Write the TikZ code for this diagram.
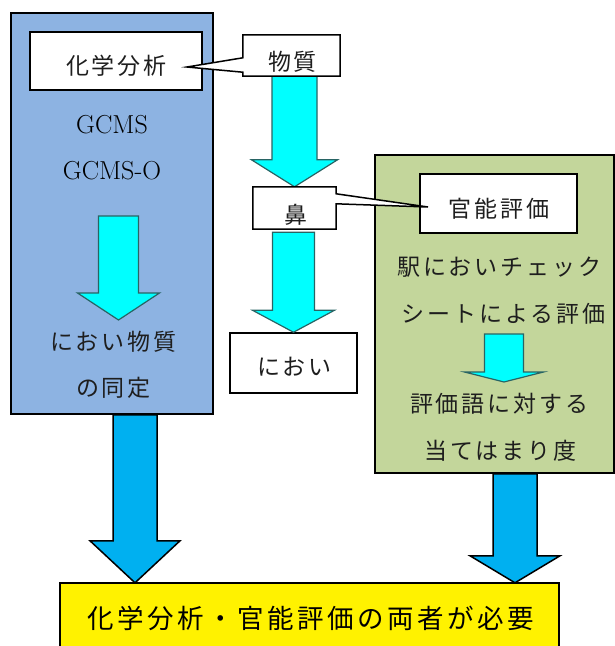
\documentclass[tikz,border=0pt]{standalone}
\usepackage{fontspec}
\newfontfamily\jp[LetterSpace=13]{Noto Sans CJK JP}
\usetikzlibrary{calc}
\definecolor{boxblue}{RGB}{141,179,226}
\definecolor{boxgreen}{RGB}{195,214,155}
\definecolor{arrowblue}{RGB}{0,176,240}
\definecolor{arrowcyan}{RGB}{0,255,255}
\definecolor{cyanedge}{RGB}{40,100,100}
\definecolor{txt}{RGB}{30,30,30}
% style, start, end, shaft half width, head half width, head length
\newcommand\blockarrow[6]{%
  \path[#1] let \p1=#2, \p2=#3 in
    (\x1-#4pt,\y1) -- (\x1+#4pt,\y1) -- (\x1+#4pt,\y2+#6pt) -- (\x1+#5pt,\y2+#6pt)
    -- (\x1,\y2) -- (\x1-#5pt,\y2+#6pt) -- (\x1-#4pt,\y2+#6pt) -- cycle;}
\begin{document}
\begin{tikzpicture}[x=1pt,y=-1pt,
  panel/.style={draw=black, line width=1.5pt, inner sep=0pt},
  box/.style={draw=black, line width=1.5pt, fill=white, inner sep=0pt},
  shapeonly/.style={inner sep=0pt},
  jt/.style={font=\jp\fontsize{23}{27}\selectfont, text=txt, inner sep=0pt, xshift=1.5pt},
  jbig/.style={font=\jp\fontsize{26.5}{30}\selectfont, text=black, inner sep=0pt, xshift=1.7pt},
  lt/.style={font=\rmfamily\fontsize{26}{30}\selectfont, text=black, inner sep=0pt},
  cyanarrow/.style={fill=arrowcyan, draw=cyanedge, line width=1.2pt, line join=miter},
  bluearrow/.style={fill=arrowblue, draw=black, line width=1.5pt, line join=miter}]
\useasboundingbox (0,0) rectangle (614,646);

% panels
\node[panel, fill=boxblue, minimum width=202pt, minimum height=401pt] (chem) at (112,213.5) {};
\node[panel, fill=boxgreen, minimum width=239pt, minimum height=318pt] (sensory) at (494.5,314) {};
\node[shapeonly, minimum width=499pt, minimum height=67pt] (goal) at (309.5,616.5) {};

% bottom arrows
\coordinate (bl) at ($(chem.south)+(23,0)$);
\coordinate (br) at ($(sensory.south)+(20.5,0)$);
\blockarrow{bluearrow}{(bl)}{(bl |- goal.north)}{22}{45}{42}
\blockarrow{bluearrow}{(br)}{(br |- goal.north)}{22}{45}{27}
\draw[line width=1.5pt, fill=yellow] (goal.south west) -- (goal.north west) -- (goal.north east) -- (goal.south east);

% inner boxes
\node[box, minimum width=172pt, minimum height=58pt] (kagaku) at (116,61) {};
\node[box, minimum width=157pt, minimum height=59pt] (kannou) at (498.5,203.5) {};
\node[box, minimum width=127pt, minimum height=60pt] (nioi) at (293.5,363) {};
\node[shapeonly, minimum width=97pt, minimum height=41pt] (busshitsu) at (291.5,55.5) {};
\node[shapeonly, minimum width=83pt, minimum height=42pt] (hana) at (294.5,208) {};

% cyan arrows
\coordinate (a0s) at (118.5,216);
\coordinate (a0e) at (118.5,320);
\blockarrow{cyanarrow}{(a0s)}{(a0e)}{20}{41}{27}
\blockarrow{cyanarrow}{(hana.north |- busshitsu.south)}{(hana.north)}{22.5}{43}{27}
\blockarrow{cyanarrow}{($(nioi.north |- hana.south)+(0,3)$)}{(nioi.north)}{21}{41}{22}
\coordinate (a3s) at (504,334);
\coordinate (a3e) at (504,382);
\blockarrow{cyanarrow}{(a3s)}{(a3e)}{19.5}{39.5}{10}

% callouts
\coordinate (tip1) at (187,67);
\coordinate (tip2) at (428,207);
\draw[line width=1.5pt, fill=white, line join=miter]
  (busshitsu.north west) -- (busshitsu.north east) -- (busshitsu.south east)
  -- (busshitsu.south west) -- ($(busshitsu.south west)+(0,-4)$) -- (tip1)
  -- ($(busshitsu.north west)+(0,23)$) -- cycle;
\draw[line width=1.5pt, fill=white, line join=miter]
  (hana.north west) -- (hana.north east) -- ($(hana.north east)+(0,7)$) -- (tip2)
  -- ($(hana.north east)+(0,17)$) -- (hana.south east) -- (hana.south west) -- cycle;

% texts
\node[jt] (t1) at (115,66) {化学分析};
\node[jt] (t2) at (291,62) {物質};
\node[lt] (t3) at (112,125) {GCMS};
\node[lt] (t4) at (112,171) {GCMS-O};
\node[jt] (t5) at (112,342) {におい物質};
\node[jt] (t6) at (112,388) {の同定};
\node[jt] (t7) at (294,214.5) {鼻};
\node[jt] (t8) at (293,367) {におい};
\node[jt] (t9) at (497.5,209) {官能評価};
\node[jt] (t10) at (498,267) {駅においチェック};
\node[jt] (t11) at (502,314) {シートによる評価};
\node[jt] (t12) at (498,404) {評価語に対する};
\node[jt] (t13) at (499,451) {当てはまり度};
\node[jbig] (t14) at (309,618) {化学分析・官能評価の両者が必要};
\end{tikzpicture}
\end{document}
